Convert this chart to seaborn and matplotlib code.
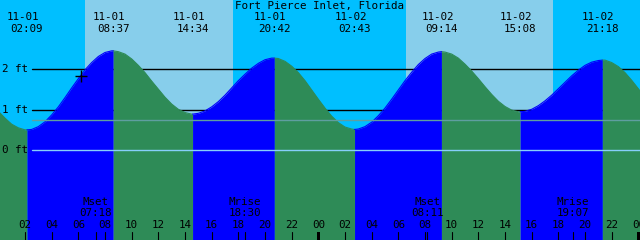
import numpy as np
import pandas as pd
import matplotlib
matplotlib.use("Agg")
import matplotlib.pyplot as plt
import seaborn as sns
from matplotlib import transforms

# ---------------- data ----------------
title = "Fort Pierce Inlet, Florida"
# half-hourly readings, hours after 11-01 00:00
hours = np.arange(0, 49, 0.5)
height_ft = [0.96, 0.79, 0.64, 0.55, 0.50, 0.51, 0.58, 0.70, 0.87, 1.07,
             1.30, 1.54, 1.77, 1.99, 2.17, 2.32, 2.42, 2.46, 2.44, 2.38,
             2.26, 2.10, 1.92, 1.71, 1.51, 1.31, 1.14, 1.01, 0.93, 0.89,
             0.91, 0.97, 1.07, 1.20, 1.36, 1.54, 1.72, 1.88, 2.03, 2.15,
             2.24, 2.28, 2.27, 2.20, 2.08, 1.92, 1.72, 1.49, 1.26, 1.04,
             0.84, 0.68, 0.57, 0.52, 0.52, 0.58, 0.69, 0.85, 1.04, 1.26,
             1.49, 1.72, 1.93, 2.12, 2.27, 2.38, 2.43, 2.43, 2.38, 2.28,
             2.13, 1.96, 1.77, 1.57, 1.38, 1.21, 1.08, 0.99, 0.95, 0.96,
             1.01, 1.10, 1.22, 1.36, 1.52, 1.68, 1.84, 1.98, 2.10, 2.18,
             2.22, 2.23, 2.17, 2.07, 1.92, 1.73, 1.52, 1.30]

ext_date = ["11-01", "11-01", "11-01", "11-01", "11-02", "11-02", "11-02", "11-02"]
ext_time = ["02:09", "08:37", "14:34", "20:42", "02:43", "09:14", "15:08", "21:18"]
ext_height = [0.50, 2.46, 0.89, 2.28, 0.51, 2.44, 0.95, 2.23]
ext_kind = ["low", "high", "low", "high", "low", "high", "low", "high"]

moon_label = ["Mset", "Mrise", "Mset", "Mrise"]
moon_date = ["11-01", "11-01", "11-02", "11-02"]
moon_time = ["07:18", "18:30", "08:11", "19:07"]

sunrise = ["06:30", "06:35"]
sunset = ["17:36", "17:36"]
sun_date = ["11-01", "11-02"]

level_ft = [0, 1, 2]
level_labels = ["0 ft", "1 ft", "2 ft"]
msl_ft = 0.74
now_time = "06:12"
now_height = 1.84
tick_hours = list(range(2, 49, 2))


def to_h(date, hm):
    d = int(date.split("-")[1]) - 1
    h, m = hm.split(":")
    return d * 24 + int(h) + int(m) / 60.0


ext_hours = [to_h(d, t) for d, t in zip(ext_date, ext_time)]
moon_hours = [to_h(d, t) for d, t in zip(moon_date, moon_time)]
rise_h = [to_h(d, t) for d, t in zip(sun_date, sunrise)]
set_h = [to_h(d, t) for d, t in zip(sun_date, sunset)]

# ---------------- style ----------------
sns.set_style("white")
plt.rcParams["font.family"] = ["DejaVu Sans Mono"]
plt.rcParams["text.color"] = "black"
FS = 7.8
DAY = "#87CEEB"
NIGHT = "#00BFFF"
FLOOD = "#0000FF"
EBB = "#2E8B57"

W, H = 640, 240
X0, X1 = 0.125, 48.125
Y0, Y1 = -2.233, 3.722
px_h = (X1 - X0) / W

fig = plt.figure(figsize=(6.4, 2.4), dpi=100)
ax = fig.add_axes([0, 0, 1, 1])
ax.set_xlim(X0, X1)
ax.set_ylim(Y0, Y1)
ax.axis("off")
bx = transforms.blended_transform_factory(ax.transData, ax.transAxes)
by = transforms.blended_transform_factory(ax.transAxes, ax.transData)

# sky: night / day
ax.axvspan(X0 - 1, X1 + 1, color=NIGHT, lw=0, zorder=0)
for r, s in zip(rise_h, set_h):
    ax.axvspan(r, s, color=DAY, lw=0, zorder=0.1)

# grid lines behind water
for lv in level_ft[1:]:
    ax.axhline(lv, xmin=32 / W, xmax=1, color="black", lw=1.0, zorder=1)

# water segments (flood / ebb)
bounds = [hours[0]] + ext_hours + [hours[-1]]
bvals = [height_ft[0]] + ext_height + [height_ft[-1]]
rows = []
for i in range(len(bounds) - 1):
    a, b = bounds[i], bounds[i + 1]
    phase = "ebb" if (i < len(ext_kind) and ext_kind[i] == "low") else "flood"
    if i == len(bounds) - 2:
        phase = "ebb" if ext_kind[-1] == "high" else "flood"
    ts = [a] + [t for t in hours if a < t < b] + [b]
    hs = [bvals[i]] + [height_ft[j] for j, t in enumerate(hours) if a < t < b] + [bvals[i + 1]]
    for t, h in zip(ts, hs):
        rows.append({"t": t, "h": h, "seg": i, "phase": phase})
df = pd.DataFrame(rows)

for seg, g in df.groupby("seg"):
    col = FLOOD if g["phase"].iloc[0] == "flood" else EBB
    ax.fill_between(g["t"], Y0 - 1, g["h"], color=col, lw=0, zorder=2)

sns.lineplot(data=df, x="t", y="h", hue="phase", units="seg", estimator=None,
             palette={"flood": FLOOD, "ebb": EBB}, legend=False, lw=0.8,
             sort=False, ax=ax, zorder=2.5)
ax.set_xlim(X0, X1)
ax.set_ylim(Y0, Y1)
ax.axis("off")

# datum and mean sea level lines
ax.axhline(level_ft[0], xmin=32 / W, xmax=1, color="#87CEFA", lw=1.0, zorder=3)
ax.axhline(msl_ft, xmin=32 / W, xmax=1, color="#5F9EA0", lw=1.0, zorder=3)

# level labels
for lv, lab in zip(level_ft, level_labels):
    ax.text(2 / W, lv, lab, transform=by, ha="left", va="center",
            fontsize=FS, color="black", zorder=5)

# title
ax.text(0.4995, 1 - 5.5 / H, title, transform=ax.transAxes, ha="center",
        va="center", fontsize=FS, color="black", zorder=5)

# extreme labels
for t, d, hm in zip(ext_hours, ext_date, ext_time):
    ax.text(t - 4 * px_h, 1 - 17.5 / H, d, transform=bx, ha="center",
            va="center", fontsize=FS, color="black", zorder=5)
    ax.text(t, 1 - 29.5 / H, hm, transform=bx, ha="center",
            va="center", fontsize=FS, color="black", zorder=5)

# now marker
ax.plot([to_h("11-01", now_time)], [now_height], marker="+", ms=8,
        mew=1.0, color="black", zorder=5)

# bottom ticks
for th in tick_hours:
    ax.text(th, 1 - 224.5 / H, "%02d" % (th % 24), transform=bx, ha="center",
            va="center", fontsize=FS, color="black", zorder=5)
    if th % 24 == 0:
        ax.add_patch(plt.Rectangle((th - 1.6 * px_h, 0), 3.2 * px_h, 8.3 / H,
                                   transform=bx, color="black", lw=0, zorder=5))
    else:
        ax.plot([th, th], [0, 8.3 / H], transform=bx, color="black",
                lw=0.8, zorder=5)

# moon events
for t, lab, hm in zip(moon_hours, moon_label, moon_time):
    ax.plot([t, t], [0, 8.3 / H], transform=bx, color="black", lw=0.8, zorder=5)
    ax.text(t, 1 - 202 / H, lab, transform=bx, ha="center", va="center",
            fontsize=FS, color="black", zorder=5)
    ax.text(t, 1 - 213.3 / H, hm, transform=bx, ha="center", va="center",
            fontsize=FS, color="black", zorder=5)

fig.savefig("out.png", dpi=100)
